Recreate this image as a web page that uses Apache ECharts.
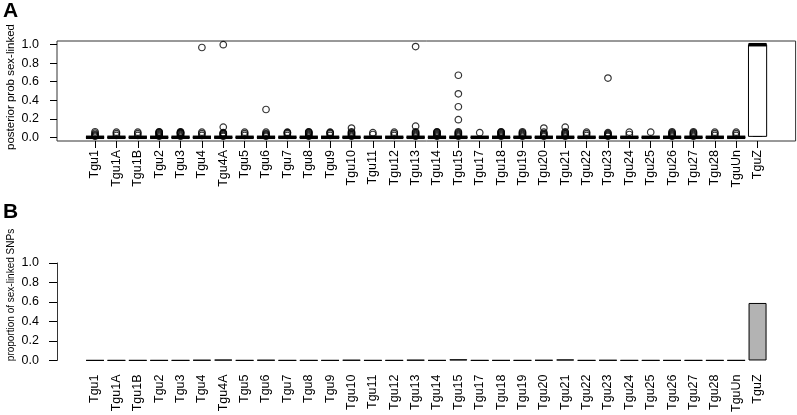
<!DOCTYPE html>
<html>
<head>
<meta charset="utf-8">
<script src="https://cdn.jsdelivr.net/npm/echarts@6/dist/echarts.min.js"></script>
<style>
html,body{margin:0;padding:0;background:#fff;}
#chart{width:797px;height:415px;}
</style>
</head>
<body>
<div id="chart"></div>
<script>
// ---------- data ----------
const categories = ['Tgu1','Tgu1A','Tgu1B','Tgu2','Tgu3','Tgu4','Tgu4A','Tgu5','Tgu6','Tgu7','Tgu8','Tgu9','Tgu10','Tgu11','Tgu12','Tgu13','Tgu14','Tgu15','Tgu17','Tgu18','Tgu19','Tgu20','Tgu21','Tgu22','Tgu23','Tgu24','Tgu25','Tgu26','Tgu27','Tgu28','TguUn','TguZ'];

// five-number summaries [min, Q1, median, Q3, max] of posterior prob sex-linked
const boxMin    = [0,0,0,0,0,0,0,0,0,0,0,0,0,0,0,0,0,0,0,0,0,0,0,0,0,0,0,0,0,0,0,0.01];
const boxQ1     = [0,0,0,0,0,0,0,0,0,0,0,0,0,0,0,0,0,0,0,0,0,0,0,0,0,0,0,0,0,0,0,0.01];
const boxMedian = [0,0,0,0,0,0,0,0,0,0,0,0,0,0,0,0,0,0,0,0,0,0,0,0,0,0,0,0,0,0,0,1.0];
const boxQ3     = [0,0,0,0,0,0,0,0,0,0,0,0,0,0,0,0,0,0,0,0,0,0,0,0,0,0,0,0,0,0,0,1.0];
const boxMax    = [0,0,0,0,0,0,0,0,0,0,0,0,0,0,0,0,0,0,0,0,0,0,0,0,0,0,0,0,0,0,0,1.0];

// outliers per chromosome
const outliers = [
  [0.01,0.02,0.03,0.045,0.06],             // Tgu1
  [0.02,0.04,0.055],                       // Tgu1A
  [0.02,0.04,0.055],                       // Tgu1B
  [0.01,0.02,0.03,0.04,0.05,0.055,0.06],   // Tgu2
  [0.01,0.02,0.03,0.04,0.045,0.05,0.055,0.06], // Tgu3
  [0.02,0.04,0.055,0.97],                  // Tgu4
  [0.01,0.02,0.03,0.04,0.045,0.05,0.11,1.0], // Tgu4A
  [0.02,0.04,0.055],                       // Tgu5
  [0.01,0.02,0.03,0.04,0.055,0.30],        // Tgu6
  [0.02,0.04,0.05,0.055],                  // Tgu7
  [0.01,0.02,0.03,0.04,0.05,0.055,0.06],   // Tgu8
  [0.02,0.04,0.05,0.055],                  // Tgu9
  [0.01,0.02,0.03,0.04,0.05,0.06,0.10],    // Tgu10
  [0.03,0.05],                             // Tgu11
  [0.02,0.04,0.055],                       // Tgu12
  [0.01,0.02,0.03,0.04,0.05,0.06,0.12,0.98], // Tgu13
  [0.01,0.02,0.03,0.04,0.05,0.055,0.06],   // Tgu14
  [0.01,0.02,0.03,0.04,0.05,0.06,0.19,0.33,0.47,0.67], // Tgu15
  [0.05],                                  // Tgu17
  [0.01,0.02,0.03,0.04,0.05,0.055,0.06],   // Tgu18
  [0.01,0.02,0.03,0.04,0.05,0.06],         // Tgu19
  [0.01,0.02,0.03,0.04,0.055,0.10],        // Tgu20
  [0.01,0.02,0.03,0.04,0.05,0.06,0.11],    // Tgu21
  [0.02,0.04,0.055],                       // Tgu22
  [0.01,0.02,0.03,0.04,0.05,0.64],         // Tgu23
  [0.03,0.055],                            // Tgu24
  [0.055],                                 // Tgu25
  [0.01,0.02,0.03,0.04,0.05,0.06],         // Tgu26
  [0.01,0.02,0.03,0.04,0.05,0.06],         // Tgu27
  [0.02,0.04,0.055],                       // Tgu28
  [0.02,0.04,0.055],                       // TguUn
  []                                       // TguZ
];

// proportion of sex-linked SNPs
const proportions = [0.002,0.002,0.002,0.002,0.002,0.005,0.008,0.002,0.005,0.002,0.002,0.002,0.005,0.002,0.002,0.006,0.002,0.012,0.002,0.002,0.002,0.004,0.010,0.002,0.004,0.002,0.002,0.002,0.002,0.002,0.002,0.59];

const yTicks = [0,0.2,0.4,0.6,0.8,1.0];
const xPositions = categories.map((c,i)=>i+1);

// ---------- chart ----------
const FONT = 'Liberation Sans, Arial, Helvetica, sans-serif';
const TXT = '#000';
const chart = echarts.init(document.getElementById('chart'), null, {renderer:'canvas'});

const boxData = categories.map((c,i)=>[i+1, boxMin[i], boxQ1[i], boxMedian[i], boxQ3[i], boxMax[i]]);
const outlierData = [];
outliers.forEach((arr,i)=>arr.forEach(v=>outlierData.push([i+1, v])));
const barData = proportions.map((v,i)=>[i+1, v]);

const xMin = -0.78, xMax = 33.78;
const labelFmt = v => categories[Math.round(v)-1] || '';

function renderBox(params, api){
  const x = api.value(0);
  const w = api.size([1,0])[0]*0.85;
  const pMin = api.coord([x, api.value(1)]);
  const pQ1  = api.coord([x, api.value(2)]);
  const pMed = api.coord([x, api.value(3)]);
  const pQ3  = api.coord([x, api.value(4)]);
  const pMax = api.coord([x, api.value(5)]);
  const cx = pMed[0];
  const stroke = {stroke:'#000', lineWidth:1, fill:null};
  return {
    type:'group',
    children:[
      {type:'line', shape:{x1:cx,y1:pQ3[1],x2:cx,y2:pMax[1]}, style:Object.assign({lineDash:[3,3]},stroke)},
      {type:'line', shape:{x1:cx,y1:pQ1[1],x2:cx,y2:pMin[1]}, style:Object.assign({lineDash:[3,3]},stroke)},
      {type:'line', shape:{x1:cx-w/4,y1:pMax[1],x2:cx+w/4,y2:pMax[1]}, style:stroke},
      {type:'line', shape:{x1:cx-w/4,y1:pMin[1],x2:cx+w/4,y2:pMin[1]}, style:stroke},
      {type:'rect', shape:{x:cx-w/2, y:pQ3[1], width:w, height:Math.max(0,pQ1[1]-pQ3[1])}, style:{stroke:'#000', lineWidth:1, fill:'#fff'}},
      {type:'line', shape:{x1:cx-w/2,y1:pMed[1],x2:cx+w/2,y2:pMed[1]}, style:{stroke:'#000', lineWidth:3.5}}
    ]
  };
}

const option = {
  animation:false,
  backgroundColor:'#fff',
  textStyle:{fontFamily:FONT},
  grid:[
    {left:57, top:41, width:738.6, height:100, show:true, borderColor:'#333', borderWidth:1, backgroundColor:'transparent'},
    {left:57, top:263, width:738.6, height:99.7}
  ],
  xAxis:[
    {gridIndex:0, type:'value', min:xMin, max:xMax, position:'bottom',
     axisLine:{show:false, onZero:false}, splitLine:{show:false},
     axisTick:{show:true, inside:false, length:7, lineStyle:{color:'#000'}, customValues:xPositions},
     axisLabel:{show:true, rotate:90, margin:9, fontSize:12.5, color:TXT, fontFamily:FONT, customValues:xPositions, formatter:labelFmt}
    },
    {gridIndex:1, type:'value', min:xMin, max:xMax, position:'bottom',
     axisLine:{show:false, onZero:false}, splitLine:{show:false}, axisTick:{show:false},
     axisLabel:{show:true, rotate:90, margin:14, fontSize:12.5, color:TXT, fontFamily:FONT, customValues:xPositions, formatter:labelFmt}
    }
  ],
  yAxis:[
    {gridIndex:0, type:'value', min:-0.04, max:1.04, position:'left',
     axisLine:{show:false, onZero:false}, splitLine:{show:false},
     axisTick:{show:true, inside:false, length:7, lineStyle:{color:'#000'}, customValues:yTicks},
     axisLabel:{margin:18, fontSize:12.5, color:TXT, fontFamily:FONT, customValues:yTicks, formatter:v=>v.toFixed(1)}
    },
    {gridIndex:1, type:'value', min:0, max:1, interval:0.2, position:'left',
     axisLine:{show:true, onZero:false, lineStyle:{color:'#333', width:1}}, splitLine:{show:false},
     axisTick:{show:true, inside:false, length:8, lineStyle:{color:'#000'}},
     axisLabel:{margin:18, fontSize:12.5, color:TXT, fontFamily:FONT, formatter:v=>v.toFixed(1)}
    }
  ],
  series:[
    {type:'custom', xAxisIndex:0, yAxisIndex:0, data:boxData, renderItem:renderBox, z:2},
    {type:'scatter', xAxisIndex:0, yAxisIndex:0, data:outlierData, symbol:'circle', symbolSize:6.5,
     itemStyle:{color:'rgba(0,0,0,0)', borderColor:'#000', borderWidth:1.2}, z:3},
    {type:'bar', xAxisIndex:1, yAxisIndex:1, data:barData, barWidth:18,
     itemStyle:{color:'#b3b3b3', borderColor:'#000', borderWidth:1}}
  ],
  graphic:[
    {type:'text', left:3, top:1, style:{text:'A', font:'bold 21px '+FONT, fill:'#000'}},
    {type:'text', left:3, top:202, style:{text:'B', font:'bold 21px '+FONT, fill:'#000'}},
    {type:'text', x:11, y:87, rotation:Math.PI/2, style:{text:'posterior prob sex-linked', font:'11.5px '+FONT, fill:TXT, align:'center', verticalAlign:'middle'}},
    {type:'text', x:11, y:295, rotation:Math.PI/2, style:{text:'proportion of sex-linked SNPs', font:'10px '+FONT, fill:TXT, align:'center', verticalAlign:'middle'}}
  ]
};
chart.setOption(option);
</script>
</body>
</html>
